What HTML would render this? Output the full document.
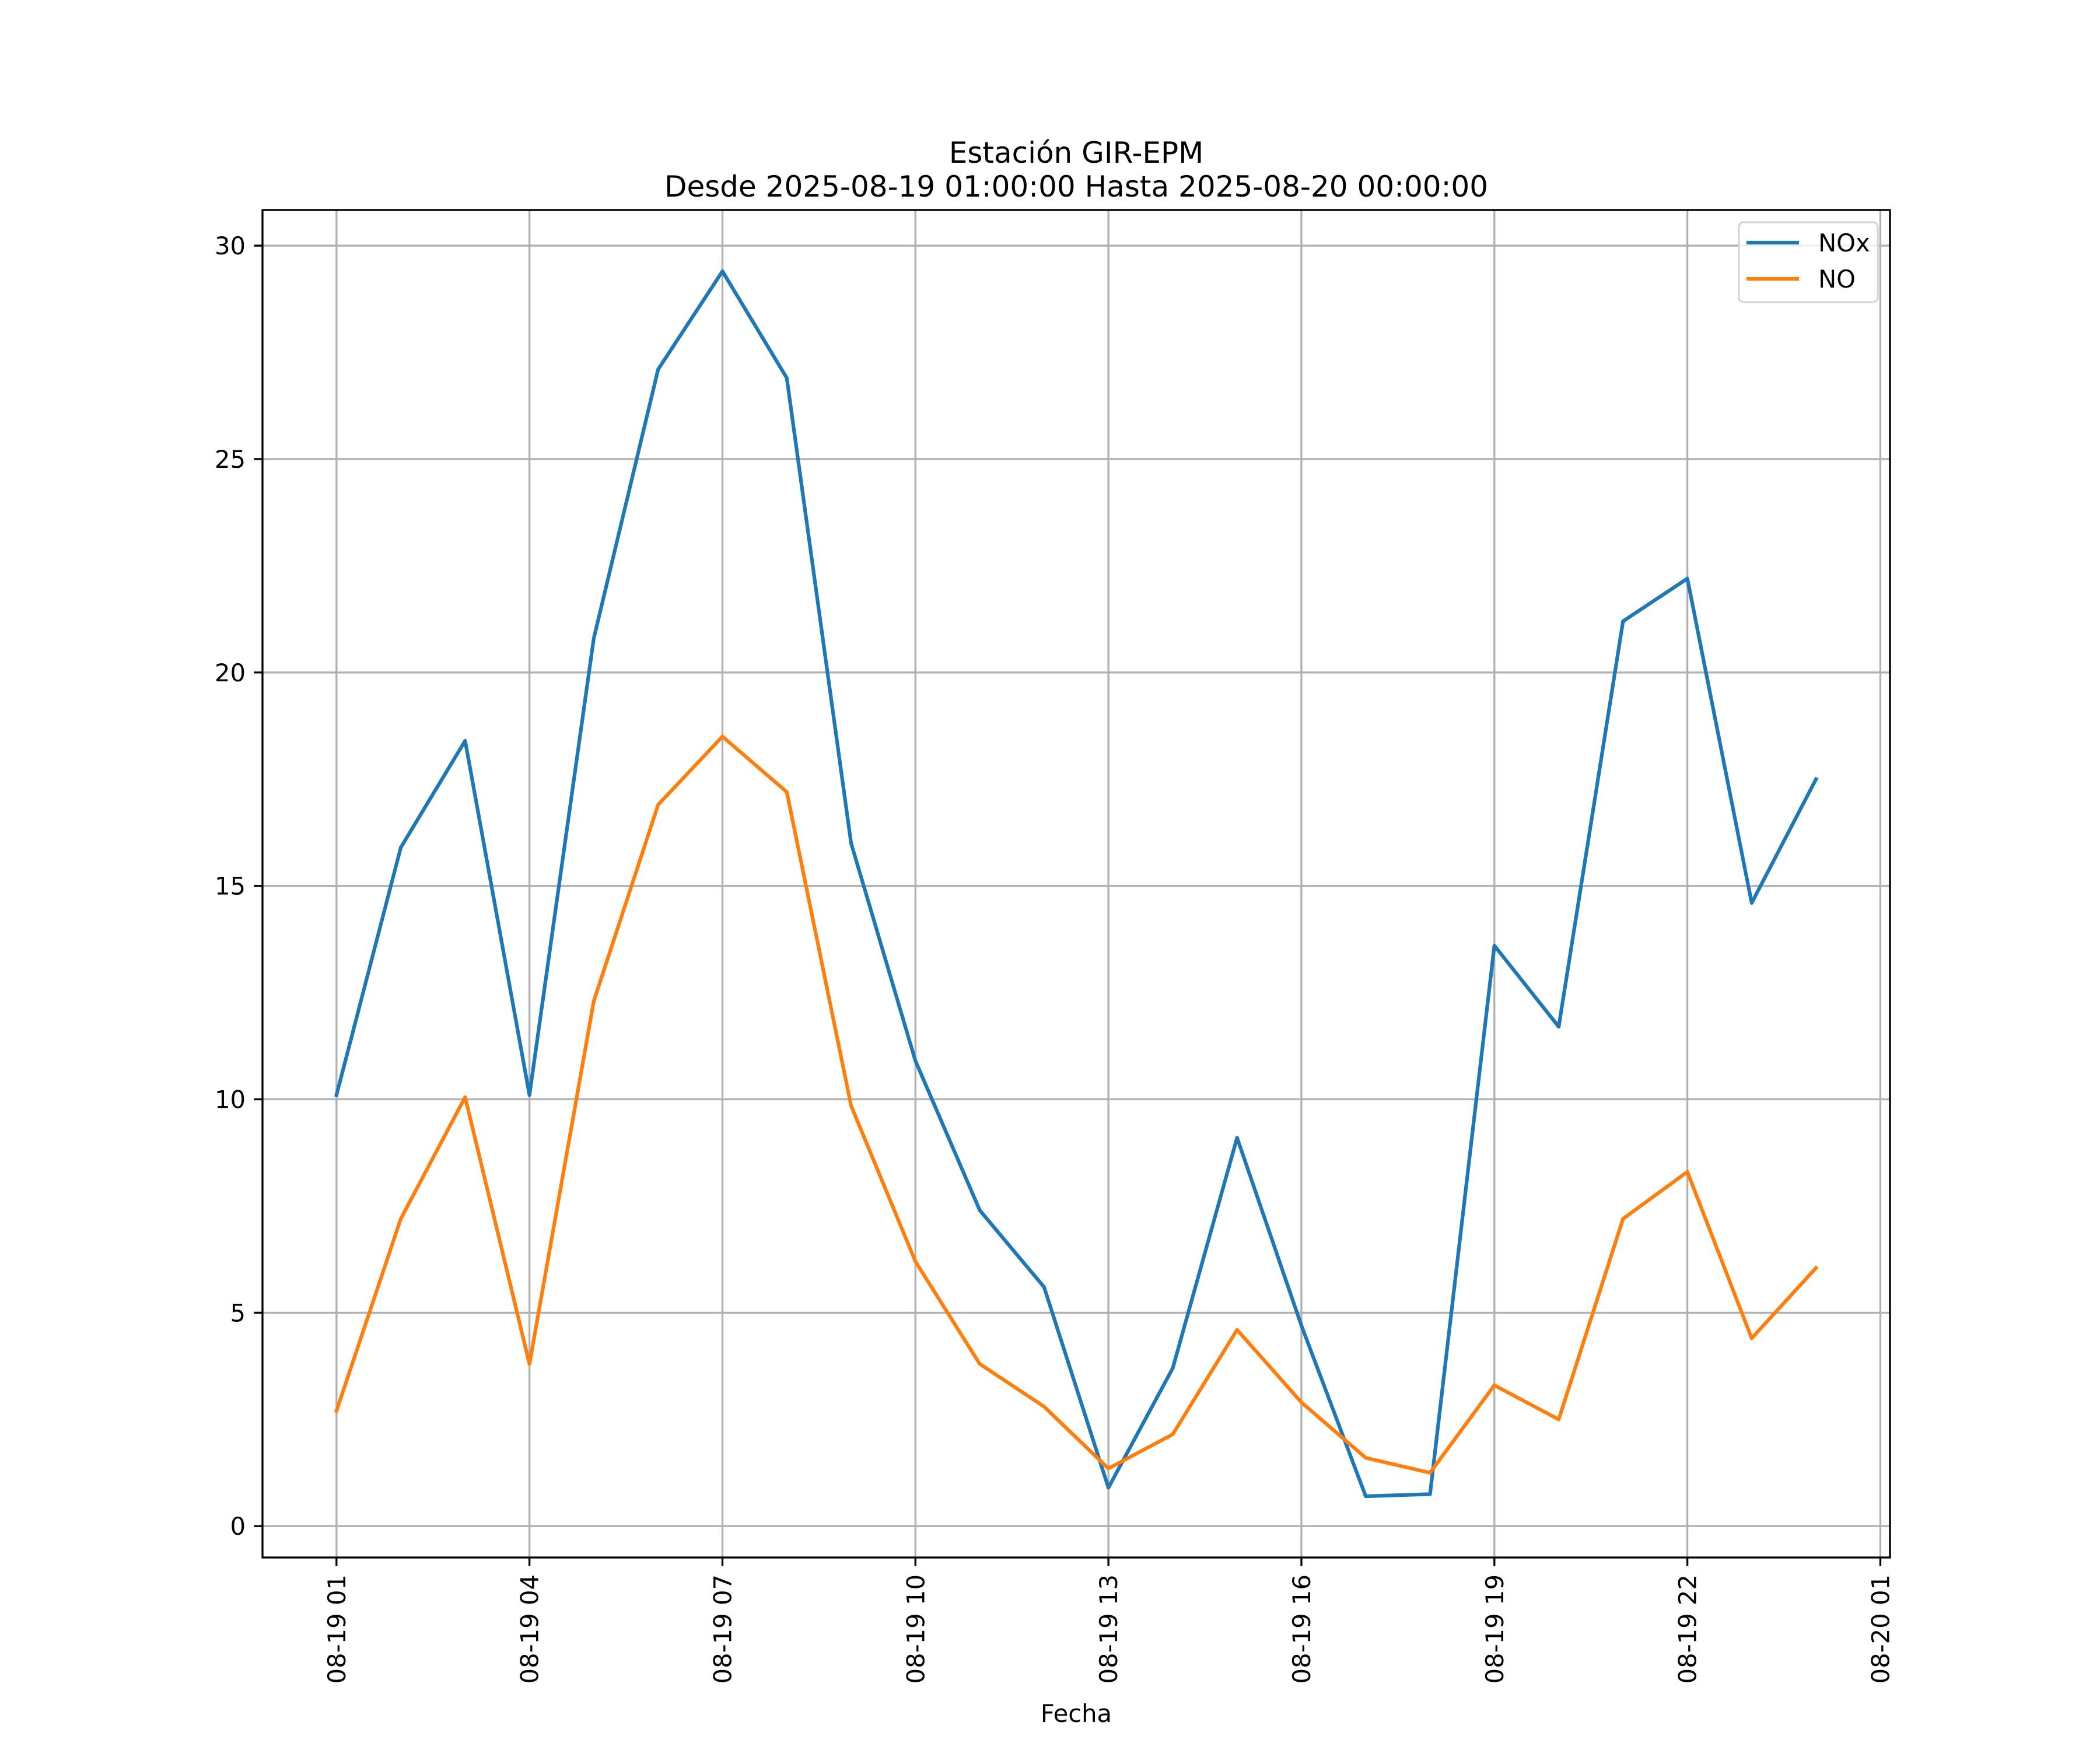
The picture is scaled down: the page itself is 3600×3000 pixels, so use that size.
<!DOCTYPE html>
<html><head><meta charset="utf-8"><style>html,body{margin:0;padding:0;background:#fff}svg{display:block}</style></head>
<body>
<svg id="chart" width="3600" height="3000" viewBox="0 0 3600 3000" xmlns="http://www.w3.org/2000/svg" font-family="'DejaVu Sans','Liberation Sans',sans-serif">
<rect width="3600" height="3000" fill="#fff"/>
<g id="grid"></g>
<g id="series"></g>
<rect x="450" y="360" width="2790" height="2310" fill="none" stroke="#000" stroke-width="3.33"/>
<g id="axes" font-size="41.7"></g>
<text x="1845" y="279" text-anchor="middle" font-size="50">Estación GIR-EPM</text>
<text x="1845" y="337" text-anchor="middle" font-size="50">Desde 2025-08-19 01:00:00 Hasta 2025-08-20 00:00:00</text>
<text x="1845" y="2952" text-anchor="middle" font-size="41.7">Fecha</text>
<g>
<rect x="2981" y="381" width="238" height="137" rx="8" fill="#fff" fill-opacity="0.8" stroke="#d5d5d5" stroke-width="3.33"/>
<g><line x1="2994" y1="416" x2="3084" y2="416" stroke="#1f77b4" stroke-width="6.25"/><text x="3117" y="431" font-size="41.7">NOx</text></g>
<g><line x1="2994" y1="478" x2="3084" y2="478" stroke="#ff7f0e" stroke-width="6.25"/><text x="3117" y="493" font-size="41.7">NO</text></g>
</g>
</svg>
<script>
const hours = [1,2,3,4,5,6,7,8,9,10,11,12,13,14,15,16,17,18,19,20,21,22,23,24];
const noxValues = [10.1,15.9,18.4,10.1,20.8,27.1,29.4,26.9,16.0,10.9,7.4,5.6,0.9,3.7,9.1,4.7,0.7,0.75,13.6,11.7,21.2,22.2,14.6,17.5];
const noValues = [2.7,7.2,10.05,3.8,12.3,16.9,18.5,17.2,9.85,6.2,3.8,2.8,1.35,2.15,4.6,2.9,1.6,1.25,3.3,2.5,7.2,8.3,4.4,6.05];
const yTicks = [0,5,10,15,20,25,30];
const xTickHours = [1,4,7,10,13,16,19,22,25];
const xTickLabels = ["08-19 01","08-19 04","08-19 07","08-19 10","08-19 13","08-19 16","08-19 19","08-19 22","08-20 01"];

const NS="http://www.w3.org/2000/svg";
const X0=450, X1=3240, Y0=2670, Y1=360;
const xMin=-0.15, xMax=25.15, yMin=-0.735, yMax=30.835;
const xs = h => X0 + (h-xMin)*(X1-X0)/(xMax-xMin);
const ys = v => Y0 - (v-yMin)*(Y0-Y1)/(yMax-yMin);
function mk(tag, attrs, parent){const e=document.createElementNS(NS,tag);for(const k in attrs)e.setAttribute(k,attrs[k]);parent.appendChild(e);return e;}
const grid=document.getElementById('grid'), axes=document.getElementById('axes'), series=document.getElementById('series');
yTicks.forEach(t=>{
  const y=ys(t);
  const g=mk('line',{x1:X0,x2:X1,y1:y,y2:y,stroke:'#b0b0b0','stroke-width':3.33},grid);
  
  
  mk('line',{x1:X0-14.6,x2:X0,y1:y,y2:y,stroke:'#000','stroke-width':3.33},axes);
  const tx=mk('text',{x:X0-29,y:y+15,'text-anchor':'end'},axes);
  tx.textContent=t;
  
  
});
xTickHours.forEach((h,i)=>{
  const x=xs(h);
  const g=mk('line',{x1:x,x2:x,y1:Y1,y2:Y0,stroke:'#b0b0b0','stroke-width':3.33},grid);
  
  
  mk('line',{x1:x,x2:x,y1:Y0,y2:Y0+14.6,stroke:'#000','stroke-width':3.33},axes);
  const tx=mk('text',{x:0,y:0,'text-anchor':'end',transform:`translate(${x+15},${Y0+29}) rotate(-90)`},axes);
  tx.textContent=xTickLabels[i];
  
  
});
function line(vals,color,name){
  const p=mk('polyline',{points:vals.map((v,i)=>xs(hours[i])+','+ys(v)).join(' '),fill:'none',stroke:color,'stroke-width':6.25,'stroke-linejoin':'round','stroke-linecap':'square'},series);
  
  
}
line(noxValues,'#1f77b4','nox-line');
line(noValues,'#ff7f0e','no-line');
</script>
</body></html>
